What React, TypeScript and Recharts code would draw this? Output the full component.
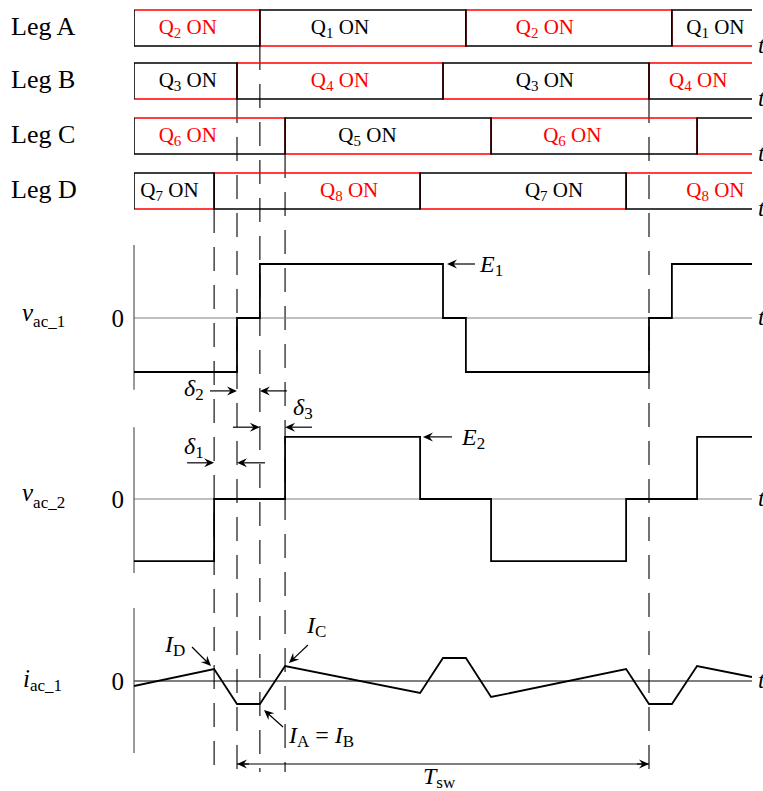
import React from "react";
import { ComposedChart, Line, XAxis, YAxis, ReferenceLine, ReferenceDot } from "recharts";

const WIDTH = 763;
const HEIGHT = 791;
const SERIF = "'Liberation Serif', 'Times New Roman', serif";
const RED = "#ff0000";

// time axis in degrees of one switching period (Tsw = 360)
const T_END = 540;

// instants where the upper switch of each leg toggles
const legAEdges = [110, 290, 470];
const legBEdges = [90, 270, 450];
const legCEdges = [132, 312, 492];
const legDEdges = [70, 250, 430];
// upper switch state (Q1 / Q3 / Q5 / Q7) at t = 0
const legAStart = 0;
const legBStart = 1;
const legCStart = 0;
const legDStart = 1;

// "Qn ON" labels: [switch number, label centre]
const legALabels = [[2, 47], [1, 180], [2, 359], [1, 508]];
const legBLabels = [[3, 47], [4, 180], [3, 359], [4, 493]];
const legCLabels = [[6, 47], [5, 204], [6, 383]];
const legDLabels = [[7, 31], [8, 188], [7, 367], [8, 508]];

// ac voltages, per unit of E1
const vac1Edges = [0, 90, 110, 270, 290, 450, 470, 540];
const vac1Levels = [-1, 0, 1, 0, -1, 0, 1];
const vac2Edges = [0, 70, 132, 250, 312, 430, 492, 540];
const vac2Levels = [-1.15, 0, 1.15, 0, -1.15, 0, 1.15];

// ac current corners
const iacT = [0, 70, 90, 110, 132, 250, 270, 290, 312, 430, 450, 470, 492, 540];
const iacV = [-0.5, 1.2, -2.3, -2.3, 1.5, -1.2, 2.3, 2.3, -1.6, 1.2, -2.3, -2.3, 1.5, 0.4];

// layout: pixel row of each trace's zero, pixels per unit
const LANES: Record<string, { zero: number; ppu: number }> = {
  legA: { zero: 46, ppu: 36 },
  legB: { zero: 99, ppu: 36 },
  legC: { zero: 154, ppu: 36 },
  legD: { zero: 209, ppu: 36 },
  vac1: { zero: 318, ppu: 54 },
  vac2: { zero: 499, ppu: 54 },
  iac: { zero: 681, ppu: 10 },
};
const laneDomain = (id: string) => [-(HEIGHT - LANES[id].zero) / LANES[id].ppu, LANES[id].zero / LANES[id].ppu];
const pxToValue = (id: string, px: number) => (LANES[id].zero - px) / LANES[id].ppu;
const GUIDE_BOTTOM = 772;

function steps(edges: number[], levels: number[]) {
  const pts: { t: number; v: number }[] = [];
  levels.forEach((lv, i) => {
    pts.push({ t: edges[i], v: lv });
    pts.push({ t: edges[i + 1], v: lv });
  });
  return pts;
}

function gate(edges: number[], start: number) {
  const all = [0, ...edges, T_END];
  const levels = all.slice(1).map((_, i) => (i % 2 === 0 ? start : 1 - start));
  const upper = [{ t: 0, v: 1 - start }, ...steps(all, levels)];
  const lower = steps(all, levels.map((l) => 1 - l));
  return { upper, lower };
}

const legs = [
  { id: "legA", name: "Leg A", ...gate(legAEdges, legAStart), labels: legALabels },
  { id: "legB", name: "Leg B", ...gate(legBEdges, legBStart), labels: legBLabels },
  { id: "legC", name: "Leg C", ...gate(legCEdges, legCStart), labels: legCLabels },
  { id: "legD", name: "Leg D", ...gate(legDEdges, legDStart), labels: legDLabels },
];

const vac1Data = steps(vac1Edges, vac1Levels);
const vac2Data = steps(vac2Edges, vac2Levels);
const iacData = iacT.map((t, i) => ({ t, v: iacV[i] }));

const guides = [
  { t: 70, lane: "legD" },
  { t: 90, lane: "legB" },
  { t: 110, lane: "legA" },
  { t: 132, lane: "legC" },
  { t: 450, lane: "legB" },
];

type Part = { s: string; it?: boolean; sub?: boolean };

function Rich({ x, y, parts, size = 24, sub = 16, shift = 4, fill = "#000", anchor = "start" }: any) {
  let cur = 0;
  return (
    <text x={x} y={y} fontFamily={SERIF} fontSize={size} fill={fill} textAnchor={anchor} style={{ whiteSpace: "pre" }}>
      {parts.map((p: Part, i: number) => {
        const want = p.sub ? shift : 0;
        const dy = want - cur;
        cur = want;
        return (
          <tspan key={i} dy={dy} fontSize={p.sub ? sub : size} fontStyle={p.it ? "italic" : "normal"}>
            {p.s}
          </tspan>
        );
      })}
    </text>
  );
}

function Arrow({ x, y, dx, dy }: any) {
  const len = Math.hypot(dx, dy);
  const ux = -dx / len;
  const uy = -dy / len;
  const ang = (Math.atan2(uy, ux) * 180) / Math.PI;
  return (
    <g>
      <line x1={x + dx} y1={y + dy} x2={x - ux * 6} y2={y - uy * 6} stroke="#000" strokeWidth={1.2} />
      <path d="M0,0 L-10,-4.5 L-6.5,0 L-10,4.5 Z" transform={`translate(${x},${y}) rotate(${ang})`} fill="#000" />
    </g>
  );
}

const math = (main: string, sub: string): Part[] => [{ s: main, it: true }, { s: sub, sub: true }];

const arrows = [
  { t: 273.5, lane: "vac1", v: 1, tail: [28, 0], label: { at: [33, 8], parts: math("E", "1") } },
  { t: 252.5, lane: "vac2", v: 1.15, tail: [29, 0], label: { at: [39, 8], parts: math("E", "2") } },
  { t: 90, lane: "vac1", v: -1.35, tail: [-27, 0], label: { at: [-53, 5], parts: math("δ", "2") } },
  { t: 110, lane: "vac1", v: -1.35, tail: [27, 0] },
  { t: 110, lane: "vac2", v: 1.33, tail: [-27, 0] },
  { t: 132, lane: "vac2", v: 1.33, tail: [27, 0], label: { at: [8, -12], parts: math("δ", "3") } },
  { t: 70, lane: "vac2", v: 0.67, tail: [-27, 0], label: { at: [-30, -9], parts: math("δ", "1") } },
  { t: 90, lane: "vac2", v: 0.67, tail: [28, 0] },
  { t: 67.3, lane: "iac", v: 1.5, tail: [-19, -19], label: { at: [-46, -14], parts: math("I", "D") } },
  { t: 135.4, lane: "iac", v: 1.8, tail: [19, -18], label: { at: [18, -30], parts: math("I", "C") } },
  {
    t: 113.6, lane: "iac", v: -2.9, tail: [19, 17],
    label: { at: [25, 33], parts: [...math("I", "A"), { s: " = " }, ...math("I", "B")] },
  },
  { t: 90, lane: "iac", v: -8.3, tail: [12, 0], label: { at: [186, 20], parts: math("T", "sw") } },
  { t: 450, lane: "iac", v: -8.3, tail: [-12, 0] },
];

const waves = [
  { id: "vac1", parts: [{ s: "v", it: true }, { s: "ac_1", sub: true }], dx: -112, dy: 3, shift: 6, zeroColor: "#808080" },
  { id: "vac2", parts: [{ s: "v", it: true }, { s: "ac_2", sub: true }], dx: -112, dy: 2, shift: 7, zeroColor: "#808080" },
  { id: "iac", parts: [{ s: "i", it: true }, { s: "ac_1", sub: true }], dx: -111, dy: 6, shift: 4, zeroColor: "#000" },
];
const axisSpan: Record<string, [number, number]> = { vac1: [1.35, -1.33], vac2: [1.33, -1.37], iac: [7.3, -7.2] };

export default function App() {
  return (
    <div style={{ position: "absolute", left: 0, top: 0, width: WIDTH, height: HEIGHT, background: "#fff" }}>
      <ComposedChart width={WIDTH} height={HEIGHT} margin={{ top: 0, right: 11, bottom: 0, left: 134 }}>
        <XAxis type="number" dataKey="t" domain={[0, T_END]} hide allowDataOverflow />
        {Object.keys(LANES).map((id) => (
          <YAxis key={id} yAxisId={id} type="number" domain={laneDomain(id)} hide allowDataOverflow />
        ))}

        {guides.map((g, i) => (
          <ReferenceLine
            key={`g${i}`}
            yAxisId={g.lane}
            segment={[{ x: g.t, y: 0 }, { x: g.t, y: pxToValue(g.lane, GUIDE_BOTTOM) }]}
            stroke="#000"
            strokeWidth={1.1}
            strokeDasharray="24 14"
            ifOverflow="visible"
          />
        ))}

        {waves.map((w) => (
          <React.Fragment key={w.id}>
            <ReferenceLine yAxisId={w.id} y={0} stroke={w.zeroColor} strokeWidth={1} />
            <ReferenceLine
              yAxisId={w.id}
              segment={[{ x: 0, y: axisSpan[w.id][0] }, { x: 0, y: axisSpan[w.id][1] }]}
              stroke="#555"
              strokeWidth={1.2}
            />
            <ReferenceDot
              yAxisId={w.id}
              x={0}
              y={0}
              ifOverflow="visible"
              shape={(p: any) => (
                <g>
                  <Rich x={p.cx + w.dx} y={p.cy + w.dy} parts={w.parts} size={25} sub={17} shift={w.shift} />
                  <text x={p.cx - 10} y={p.cy + 9} fontFamily={SERIF} fontSize={25} textAnchor="end">0</text>
                </g>
              )}
            />
          </React.Fragment>
        ))}

        <ReferenceLine
          yAxisId="iac"
          segment={[{ x: 90, y: -8.3 }, { x: 450, y: -8.3 }]}
          stroke="#000"
          strokeWidth={1.2}
        />

        {legs.map((leg) => (
          <React.Fragment key={leg.id}>
            <Line yAxisId={leg.id} data={leg.lower} dataKey="v" type="linear" stroke={RED} strokeWidth={1.6}
              dot={false} activeDot={false} isAnimationActive={false} />
            <Line yAxisId={leg.id} data={leg.upper} dataKey="v" type="linear" stroke="#000" strokeWidth={1.6}
              dot={false} activeDot={false} isAnimationActive={false} />
            <ReferenceDot
              yAxisId={leg.id}
              x={0}
              y={0.5}
              ifOverflow="visible"
              shape={(p: any) => (
                <text x={p.cx - 123} y={p.cy + 7} fontFamily={SERIF} fontSize={26}>{leg.name}</text>
              )}
            />
            {leg.labels.map(([q, c]) => (
              <ReferenceDot
                key={`${leg.id}${c}`}
                yAxisId={leg.id}
                x={c}
                y={0.5}
                ifOverflow="visible"
                shape={(p: any) => (
                  <Rich x={p.cx} y={p.cy + 6} anchor="middle" size={21} sub={15} shift={4}
                    fill={q % 2 === 0 ? RED : "#000"}
                    parts={[{ s: "Q" }, { s: String(q), sub: true }, { s: " ON" }]} />
                )}
              />
            ))}
          </React.Fragment>
        ))}

        <Line yAxisId="vac1" data={vac1Data} dataKey="v" type="linear" stroke="#000" strokeWidth={1.8}
          dot={false} activeDot={false} isAnimationActive={false} />
        <Line yAxisId="vac2" data={vac2Data} dataKey="v" type="linear" stroke="#000" strokeWidth={1.8}
          dot={false} activeDot={false} isAnimationActive={false} />
        <Line yAxisId="iac" data={iacData} dataKey="v" type="linear" stroke="#000" strokeWidth={1.8}
          dot={false} activeDot={false} isAnimationActive={false} />

        {Object.keys(LANES).map((id) => (
          <ReferenceDot
            key={`t${id}`}
            yAxisId={id}
            x={T_END}
            y={0}
            ifOverflow="visible"
            shape={(p: any) => (
              <text x={p.cx + 6} y={p.cy + 7} fontFamily={SERIF} fontSize={24} fontStyle="italic">t</text>
            )}
          />
        ))}

        {arrows.map((a, i) => (
          <ReferenceDot
            key={`a${i}`}
            yAxisId={a.lane}
            x={a.t}
            y={a.v}
            ifOverflow="visible"
            shape={(p: any) => (
              <g>
                <Arrow x={p.cx} y={p.cy} dx={a.tail[0]} dy={a.tail[1]} />
                {a.label && (
                  <Rich x={p.cx + a.label.at[0]} y={p.cy + a.label.at[1]} parts={a.label.parts} size={24} sub={17} shift={4} />
                )}
              </g>
            )}
          />
        ))}
      </ComposedChart>
    </div>
  );
}
